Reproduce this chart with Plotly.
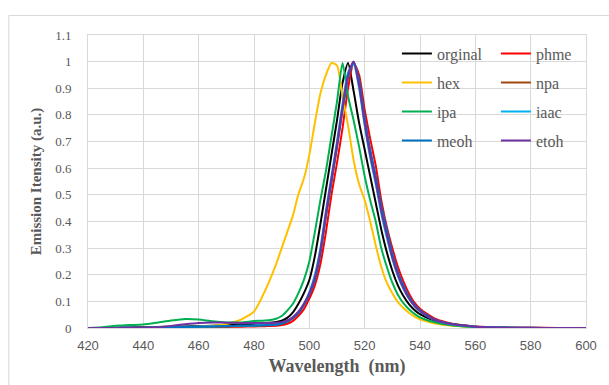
import plotly.graph_objects as go

# Emission spectra of the dye in different solvents (normalised intensity)
wavelength = [420, 425, 430, 435, 440, 445, 450, 455, 460, 465, 470, 475, 480, 484, 488,
              490, 492, 494, 496, 498, 500, 502, 504, 506, 508, 510, 512, 514, 516, 518,
              520, 522, 524, 526, 528, 530, 532, 534, 536, 538, 540, 545, 550, 555, 560,
              570, 580, 590, 600]

orginal = [0, 0, 0.001, 0.002, 0.003, 0.004, 0.005, 0.006, 0.007, 0.008, 0.01, 0.013, 0.016, 0.019, 0.023,
           0.027, 0.038, 0.058, 0.09, 0.13, 0.18, 0.27, 0.39, 0.52, 0.65, 0.78, 0.92, 0.995, 0.89, 0.77,
           0.67, 0.57, 0.47, 0.37, 0.285, 0.215, 0.16, 0.12, 0.09, 0.068, 0.052, 0.028, 0.015, 0.008, 0.004,
           0.001, 0, 0, 0]

phme = [0, 0, 0, 0, 0.001, 0.001, 0.002, 0.002, 0.003, 0.003, 0.004, 0.005, 0.006, 0.007, 0.008,
        0.011, 0.016, 0.026, 0.045, 0.07, 0.11, 0.16, 0.24, 0.36, 0.5, 0.62, 0.75, 0.9, 0.995, 0.95,
        0.82, 0.71, 0.61, 0.48, 0.38, 0.3, 0.23, 0.175, 0.13, 0.095, 0.072, 0.037, 0.02, 0.011, 0.006,
        0.002, 0.001, 0, 0]

hex_ = [0, 0, 0, 0, 0, 0.001, 0.002, 0.003, 0.005, 0.008, 0.015, 0.03, 0.062, 0.14, 0.24,
        0.3, 0.36, 0.42, 0.5, 0.56, 0.65, 0.77, 0.88, 0.95, 0.995, 0.985, 0.87, 0.76, 0.63, 0.54,
        0.48, 0.4, 0.31, 0.23, 0.17, 0.13, 0.097, 0.075, 0.057, 0.043, 0.033, 0.018, 0.01, 0.006, 0.003,
        0.001, 0, 0, 0]

npa = [0, 0, 0, 0, 0.001, 0.001, 0.002, 0.003, 0.004, 0.005, 0.006, 0.007, 0.008, 0.01, 0.012,
       0.016, 0.024, 0.037, 0.055, 0.085, 0.125, 0.18, 0.28, 0.42, 0.55, 0.68, 0.82, 0.94, 1.0, 0.92,
       0.78, 0.66, 0.56, 0.45, 0.36, 0.27, 0.205, 0.155, 0.115, 0.085, 0.065, 0.032, 0.017, 0.01, 0.005,
       0.0015, 0.0005, 0, 0]

ipa = [0, 0.003, 0.008, 0.011, 0.013, 0.02, 0.028, 0.034, 0.032, 0.025, 0.021, 0.021, 0.026, 0.028, 0.035,
       0.045, 0.065, 0.09, 0.13, 0.18, 0.25, 0.36, 0.48, 0.59, 0.72, 0.85, 0.995, 0.87, 0.78, 0.68,
       0.57, 0.48, 0.4, 0.3, 0.23, 0.17, 0.125, 0.093, 0.07, 0.053, 0.04, 0.022, 0.012, 0.007, 0.004,
       0.001, 0, 0, 0]

iaac = [0, 0, 0, 0.001, 0.001, 0.002, 0.003, 0.004, 0.005, 0.006, 0.007, 0.008, 0.009, 0.011, 0.014,
        0.018, 0.026, 0.04, 0.06, 0.09, 0.135, 0.2, 0.3, 0.44, 0.57, 0.7, 0.84, 0.96, 0.99, 0.9,
        0.76, 0.64, 0.54, 0.43, 0.34, 0.26, 0.195, 0.147, 0.11, 0.082, 0.062, 0.031, 0.017, 0.009, 0.005,
        0.0015, 0, 0, 0]

meoh = [0, 0, 0, 0.001, 0.001, 0.002, 0.003, 0.004, 0.005, 0.006, 0.007, 0.008, 0.009, 0.01, 0.012,
        0.016, 0.024, 0.037, 0.055, 0.085, 0.125, 0.18, 0.28, 0.42, 0.55, 0.68, 0.82, 0.94, 1.0, 0.93,
        0.79, 0.67, 0.57, 0.46, 0.37, 0.28, 0.21, 0.16, 0.118, 0.088, 0.067, 0.033, 0.018, 0.01, 0.005,
        0.0015, 0.0005, 0, 0]

etoh = [0, 0, 0, 0.001, 0.001, 0.003, 0.008, 0.014, 0.019, 0.021, 0.02, 0.019, 0.019, 0.019, 0.02,
        0.022, 0.028, 0.04, 0.06, 0.09, 0.13, 0.19, 0.29, 0.43, 0.56, 0.69, 0.83, 0.95, 1.0, 0.91,
        0.77, 0.65, 0.55, 0.44, 0.35, 0.265, 0.2, 0.15, 0.112, 0.083, 0.063, 0.032, 0.017, 0.01, 0.005,
        0.0015, 0.0005, 0, 0]

# name, values, colour, legend column
series = [
    ("orginal", orginal, "#000000", "legend"),
    ("phme", phme, "#ff0000", "legend2"),
    ("hex", hex_, "#ffc000", "legend"),
    ("npa", npa, "#9e480e", "legend2"),
    ("ipa", ipa, "#00b050", "legend"),
    ("iaac", iaac, "#00b0f0", "legend2"),
    ("meoh", meoh, "#0070c0", "legend"),
    ("etoh", etoh, "#7030a0", "legend2"),
]

fig = go.Figure()
for name, vals, color, leg in series:
    fig.add_trace(go.Scatter(
        x=wavelength, y=vals, name=name, mode="lines",
        line=dict(color=color, width=2, shape="spline", smoothing=0.6),
        legend=leg, legendgroup=name,
    ))

serif = "Liberation Serif, Times New Roman, serif"
sans = "Liberation Sans, Arial, sans-serif"
grid = "#d9d9d9"

W, H = 609, 385
L, R, T, B = 88, 18, 34.5, 57
pw, ph = W - L - R, H - T - B


def px_x(p):
    return (p - L) / pw


def px_y(p):
    return 1 - (p - T) / ph


legend_style = dict(
    font=dict(family=serif, size=16, color="#595959"),
    bgcolor="rgba(0,0,0,0)", borderwidth=0,
    orientation="v", yanchor="top", xanchor="left",
    tracegroupgap=5.2, itemclick=False,
)

fig.update_layout(
    width=W, height=H,
    margin=dict(l=L, r=R, t=T, b=B),
    paper_bgcolor="white", plot_bgcolor="white",
    showlegend=True,
    legend=dict(x=px_x(400), y=px_y(36), **legend_style),
    legend2=dict(x=px_x(500), y=px_y(36), **legend_style),
    xaxis=dict(
        range=[420, 600], dtick=20, tick0=420,
        showgrid=True, gridcolor=grid, gridwidth=1,
        showline=True, linecolor=grid, mirror=True, zeroline=False,
        ticks="", tickfont=dict(family=sans, size=13, color="#595959"),
        ticklabelstandoff=5,
        title=dict(text="<b>Wavelength&nbsp;&nbsp;(nm)</b>",
                   font=dict(family=serif, size=18, color="#595959"), standoff=7),
    ),
    yaxis=dict(
        range=[0, 1.1], dtick=0.1, tick0=0,
        showgrid=True, gridcolor=grid, gridwidth=1,
        showline=True, linecolor=grid, mirror=True, zeroline=False,
        ticks="", tickfont=dict(family=serif, size=13, color="#595959"),
        ticklabelstandoff=13,
        title=dict(text="<b>Emission Itensity (a.u.)</b>",
                   font=dict(family=serif, size=15, color="#595959"), standoff=9),
    ),
    shapes=[
        # white panel behind the legend, hiding the gridlines there
        dict(type="rect", xref="paper", yref="paper", layer="between",
             x0=px_x(392), x1=px_x(586), y0=px_y(155), y1=px_y(40),
             fillcolor="white", line=dict(width=0)),
        # outer chart frame
        dict(type="rect", xref="paper", yref="paper", layer="below",
             x0=px_x(8), x1=px_x(615), y0=px_y(395), y1=px_y(15),
             fillcolor="rgba(0,0,0,0)", line=dict(color=grid, width=1)),
    ],
)

fig.write_html("out.html")
